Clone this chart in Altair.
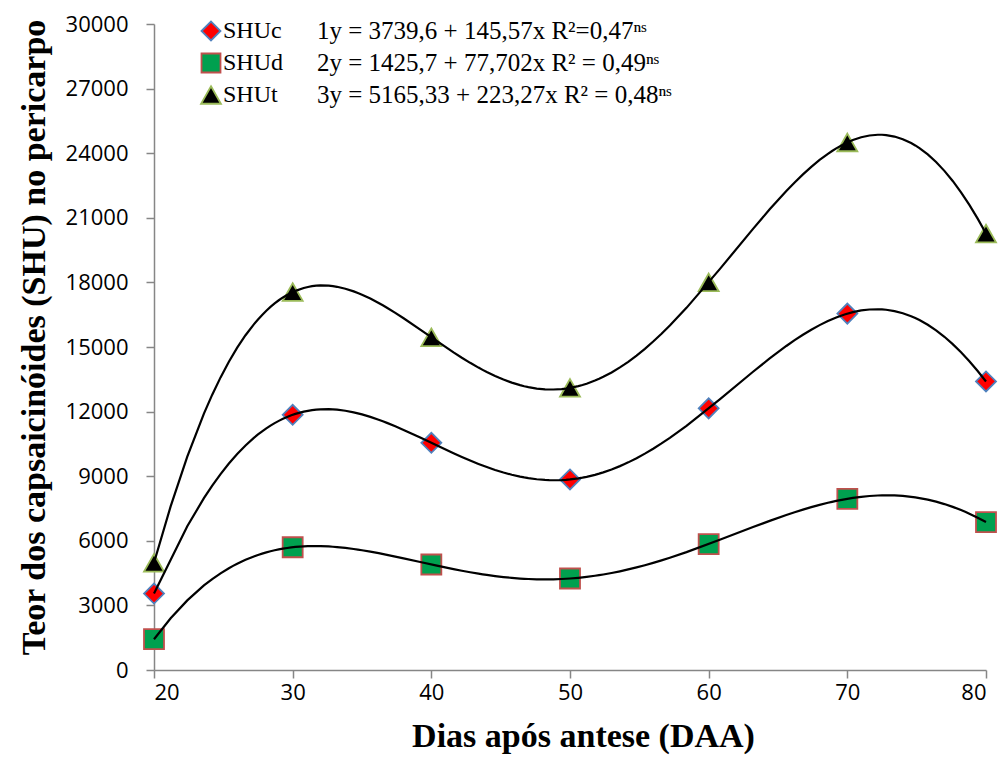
import altair as alt
import pandas as pd

# Days after anthesis and capsaicinoid content (SHU) in the pericarp
dias = [20, 30, 40, 50, 60, 70, 80]
shuc = [3550, 11850, 10550, 8850, 12150, 16550, 13400]
shud = [1430, 5700, 4900, 4250, 5850, 7950, 6870]
shut = [4980, 17550, 15450, 13100, 18000, 24500, 20270]

series = ["SHUc", "SHUd", "SHUt"]
equations = [
    "1y = 3739,6 + 145,57x R²=0,47ⁿˢ",
    "2y = 1425,7 + 77,702x R² = 0,49ⁿˢ",
    "3y = 5165,33 + 223,27x R² = 0,48ⁿˢ",
]

fills = ["#FF0000", "#00A04F", "#000000"]
strokes = ["#4F81BD", "#C0504D", "#9BBB59"]
triangle = "M0,-0.88L1,0.88L-1,0.88Z"
shapes = ["diamond", "square", triangle]
sizes = [400, 400, 440]

rows = []
for name, vals in zip(series, [shuc, shud, shut]):
    for d, v in zip(dias, vals):
        rows.append({"dia": d, "valor": v, "serie": name})
df = pd.DataFrame(rows)

W, H = 832, 646

x_enc = alt.X(
    "dia:Q",
    scale=alt.Scale(domain=[20, 80], nice=False, zero=False),
    axis=alt.Axis(
        values=dias,
        title="Dias após antese (DAA)",
        titleX=429,
        titleY=66,
        titleBaseline="middle",
        titleAnchor="middle",
    ),
)
y_enc = alt.Y(
    "valor:Q",
    scale=alt.Scale(domain=[0, 30000], nice=False),
    axis=alt.Axis(
        values=list(range(0, 30001, 3000)),
        format="d",
        title="Teor dos capsaicinóides  (SHU) no pericarpo",
        titleAngle=-90,
        titleX=-120,
        titleY=313,
        titleBaseline="middle",
        titleAlign="center",
        labelPadding=18,
    ),
)

points = alt.Chart(df).mark_point(filled=True, opacity=1, strokeWidth=1.8).encode(
    x=x_enc,
    y=y_enc,
    shape=alt.Shape("serie:N", scale=alt.Scale(domain=series, range=shapes), legend=None),
    fill=alt.Fill("serie:N", scale=alt.Scale(domain=series, range=fills), legend=None),
    stroke=alt.Stroke("serie:N", scale=alt.Scale(domain=series, range=strokes), legend=None),
    size=alt.Size("serie:N", scale=alt.Scale(domain=series, range=sizes), legend=None),
)

# sixth-order polynomial trend line for each series
curves = alt.Chart(df).transform_regression(
    "dia", "valor", groupby=["serie"], method="poly", order=6
).mark_line(color="black", strokeWidth=2.2).encode(
    x="dia:Q", y="valor:Q", detail="serie:N"
)

# legend block in the upper-left corner: symbol, series name, fitted equation
key_layers = []
for i, name in enumerate(series):
    row_y = 7 + 32 * i
    key_layers.append(
        alt.Chart(pd.DataFrame({"s": [name]})).mark_point(
            filled=True, opacity=1, strokeWidth=1.8, shape=shapes[i],
            fill=fills[i], stroke=strokes[i], size=sizes[i] * 0.9,
        ).encode(x=alt.value(57), y=alt.value(row_y))
    )
    key_layers.append(
        alt.Chart(pd.DataFrame({"s": [name]})).mark_text(
            align="left", baseline="middle", font="Liberation Serif", fontSize=24, color="black"
        ).encode(text="s:N", x=alt.value(69), y=alt.value(row_y))
    )
    key_layers.append(
        alt.Chart(pd.DataFrame({"t": [equations[i]]})).mark_text(
            align="left", baseline="middle", font="Liberation Serif", fontSize=25, color="black"
        ).encode(text="t:N", x=alt.value(163), y=alt.value(row_y))
    )

chart = alt.layer(points, curves, *key_layers).properties(
    width=W,
    height=H,
    autosize=alt.AutoSizeParams(type="none"),
    padding={"left": 154, "top": 24, "right": 16, "bottom": 104},
).configure_view(
    stroke=None
).configure_axis(
    grid=False,
    domainColor="#868686",
    domainWidth=1.5,
    tickColor="#868686",
    tickWidth=1.5,
    tickSize=8,
    labelFont="Open Sans",
    labelFontSize=22,
    labelColor="#000000",
    titleFont="Liberation Serif",
    titleFontWeight="bold",
    titleFontSize=34,
    titleColor="#000000",
).configure_axisX(
    labelPadding=4,
)

chart.save("out.html", embed_options={"renderer": "svg", "actions": False})
